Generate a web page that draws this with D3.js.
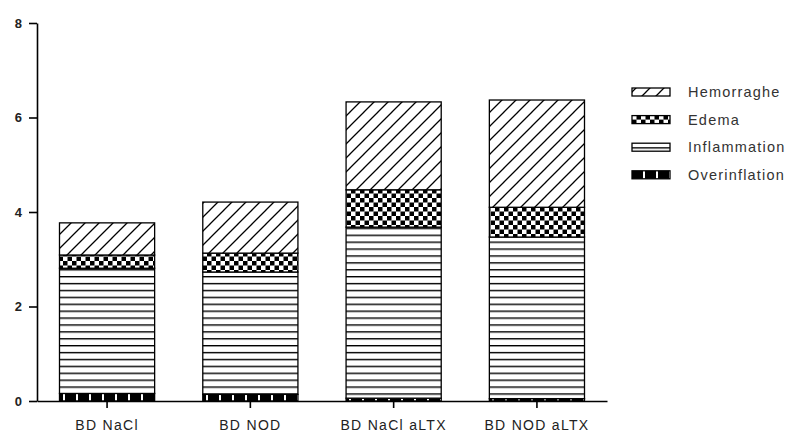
<!DOCTYPE html>
<html>
<head>
<meta charset="utf-8">
<script src="https://cdn.jsdelivr.net/npm/d3@7"></script>
<style>
  body { margin: 0; background: #fff; }
  svg { display: block; font-family: "Liberation Sans", Arial, sans-serif; }
</style>
</head>
<body>
<div id="chart"></div>
<script>
// chart values
const categories = ['BD NaCl', 'BD NOD', 'BD NaCl aLTX', 'BD NOD aLTX'];
const overinflation = [0.16, 0.14, 0.06, 0.05];
const inflammation = [2.65, 2.59, 3.62, 3.42];
const edema = [0.28, 0.40, 0.79, 0.63];
const hemorrhage = [0.68, 1.08, 1.86, 2.27];
const seriesNames = ['Overinflation', 'Inflammation', 'Edema', 'Hemorraghe'];
const yTicks = [0, 2, 4, 6, 8];

const width = 793;
const height = 436;
const margin = { top: 23, right: 186, bottom: 35, left: 37 };

const rows = categories.map((c, i) => ({
  cat: c,
  Overinflation: overinflation[i],
  Inflammation: inflammation[i],
  Edema: edema[i],
  Hemorraghe: hemorrhage[i],
}));

const svg = d3.select('#chart')
  .append('svg')
  .attr('width', width)
  .attr('height', height);

// patterns
const defs = svg.append('defs');

const hatch = defs.append('pattern')
  .attr('id', 'pat-Hemorraghe')
  .attr('patternUnits', 'userSpaceOnUse')
  .attr('width', 14).attr('height', 14);
hatch.append('rect').attr('width', 14).attr('height', 14).attr('fill', '#fff');
hatch.append('path')
  .attr('d', 'M-1,15 L15,-1 M-8,8 L8,-8 M6,22 L22,6')
  .attr('stroke', '#000').attr('stroke-width', 1.3);

const check = defs.append('pattern')
  .attr('id', 'pat-Edema')
  .attr('patternUnits', 'userSpaceOnUse')
  .attr('width', 9).attr('height', 9);
check.append('rect').attr('width', 9).attr('height', 9).attr('fill', '#fff');
check.append('rect').attr('width', 4.5).attr('height', 4.5).attr('fill', '#000');
check.append('rect').attr('x', 4.5).attr('y', 4.5).attr('width', 4.5).attr('height', 4.5).attr('fill', '#000');

const lines = defs.append('pattern')
  .attr('id', 'pat-Inflammation')
  .attr('patternUnits', 'userSpaceOnUse')
  .attr('width', 10).attr('height', 6.9);
lines.append('rect').attr('width', 10).attr('height', 6.9).attr('fill', '#fff');
lines.append('rect').attr('y', 0).attr('width', 10).attr('height', 1.4).attr('fill', '#000');

const dash = defs.append('pattern')
  .attr('id', 'pat-Overinflation')
  .attr('patternUnits', 'userSpaceOnUse')
  .attr('width', 13).attr('height', 40);
dash.append('rect').attr('width', 13).attr('height', 40).attr('fill', '#000');
dash.append('rect').attr('x', 11).attr('width', 2).attr('height', 40).attr('fill', '#fff');

// scales
const xScale = d3.scaleBand()
  .domain(categories)
  .range([margin.left, width - margin.right])
  .paddingInner(0.336)
  .paddingOuter(0.157);

const yScale = d3.scaleLinear()
  .domain([0, 8])
  .range([height - margin.bottom, margin.top]);

const stack = d3.stack().keys(seriesNames);
const stacked = stack(rows);

const g = svg.append('g');

stacked.forEach((layer) => {
  g.append('g')
    .selectAll('rect')
    .data(layer)
    .join('rect')
    .attr('x', (d) => xScale(d.data.cat))
    .attr('y', (d) => yScale(d[1]))
    .attr('width', xScale.bandwidth())
    .attr('height', (d) => yScale(d[0]) - yScale(d[1]))
    .attr('fill', `url(#pat-${layer.key})`)
    .attr('stroke', '#000')
    .attr('stroke-width', 1.3);
});

// axes
const yAxis = g.append('g')
  .attr('transform', `translate(${margin.left},0)`)
  .call(d3.axisLeft(yScale).tickValues(yTicks).tickSize(8).tickSizeOuter(0).tickPadding(7));

const xAxis = g.append('g')
  .attr('transform', `translate(0,${height - margin.bottom})`)
  .call(d3.axisBottom(xScale).tickSize(7).tickSizeOuter(0).tickPadding(12));

[yAxis, xAxis].forEach((ax) => {
  ax.select('.domain').attr('stroke', '#000').attr('stroke-width', 1.6);
  ax.selectAll('.tick line').attr('stroke', '#000').attr('stroke-width', 1.6);
});

yAxis.selectAll('text')
  .attr('fill', '#222')
  .style('font-size', '13px')
  .style('font-weight', 'bold');

xAxis.selectAll('text')
  .attr('fill', '#222')
  .style('font-size', '14px')
  .style('letter-spacing', '1.3px');

// legend
const legendKeys = ['Hemorraghe', 'Edema', 'Inflammation', 'Overinflation'];
const legend = svg.append('g').attr('transform', 'translate(632,92)');

legendKeys.forEach((key, i) => {
  const row = legend.append('g').attr('transform', `translate(0,${i * 27.6})`);
  row.append('rect')
    .attr('x', 0).attr('y', -4)
    .attr('width', 38).attr('height', 8)
    .attr('fill', `url(#pat-${key})`)
    .attr('stroke', '#000')
    .attr('stroke-width', 1.3);
  row.append('text')
    .attr('x', 56).attr('y', 0)
    .attr('dy', '0.36em')
    .attr('fill', '#333')
    .style('font-size', '14.5px')
    .style('letter-spacing', '1.2px')
    .text(key);
});
</script>
</body>
</html>
